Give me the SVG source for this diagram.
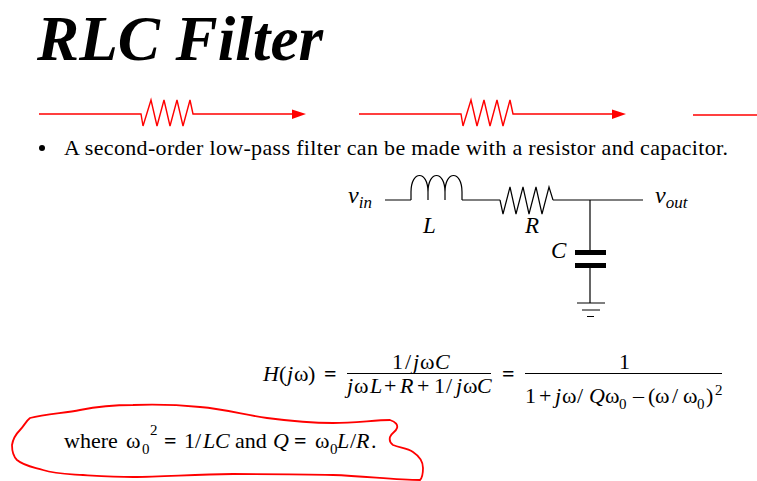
<svg xmlns="http://www.w3.org/2000/svg" width="757" height="481" viewBox="0 0 757 481">
<style>
text{font-family:"Liberation Serif","Times New Roman",serif;fill:#000}
.t{font-size:22px}.m{font-size:22px}.s{font-size:15px}.i{font-style:italic}.l{font-size:23px;font-style:italic}.v{font-size:24px;font-style:italic}.sub{font-size:17px}
.r{fill:none;stroke:#f00;stroke-width:1.4}
.k{fill:none;stroke:#000;stroke-width:1.2}
</style>
<defs>
<g id="redres"><path class="r" d="M0 14H102L104 26L112 0L118 26L125 0L131 26L138 0L144 26L151 0L154 14H254"/><path fill="#f00" d="M253 9.500L267 14L253 19Z"/></g>
</defs>
<rect width="757" height="481" fill="#fff"/>
<g id="title"><text x="37" y="60" font-size="64" font-weight="bold" font-style="italic" textLength="286" lengthAdjust="spacingAndGlyphs">RLC Filter</text></g>
<g id="connectors">
<use href="#redres" x="39" y="100"/>
<use href="#redres" x="359" y="100"/>
<path class="r" d="M693 115H757"/>
<path class="k" d="M385 200H411M462 200H500M553 200H643M590 200V252M590 265V303"/>
</g>
<g id="bullet"><circle cx="42" cy="148" r="3" fill="#000"/><text class="t" x="64" y="155" textLength="664">A second-order low-pass filter can be made with a resistor and capacitor.</text></g>
<g id="node-vin"><text class="v" x="348" y="203">v<tspan class="sub" dy="5">in</tspan></text></g>
<g id="node-L"><path class="k" d="M411 200V192C411 170 428 170 428 192V200M428 192C428 170 445 170 445 192V200M445 192C445 170 462 170 462 192V200"/><text class="l" x="423" y="233">L</text></g>
<g id="node-R"><path class="k" d="M500 200L503 214L510 187L516 214L523 187L529 214L536 187L542 214L549 187L553 200"/><text class="l" x="525" y="233">R</text></g>
<g id="node-C"><path fill="#000" d="M575 250H606V255H575ZM575 263H606V268H575Z"/><text class="l" x="551" y="258">C</text></g>
<g id="node-gnd"><path class="k" d="M577 303H605M582 310H600M587 316.500H594"/></g>
<g id="node-vout"><text class="v" x="655" y="203">v<tspan class="sub" dy="5">out</tspan></text></g>
<g id="equation">
<text class="m" y="381"><tspan class="i" x="263">H</tspan><tspan x="279">(</tspan><tspan class="i" x="287">j</tspan><tspan x="294 308">ω)</tspan></text>
<text class="m" x="324" y="381" font-weight="bold">=</text>
<text class="m" y="369"><tspan x="392 405">1/</tspan><tspan class="i" x="413">j</tspan><tspan x="420">ω</tspan><tspan class="i" x="435">C</tspan></text>
<path class="k" d="M347 373.500H491M525 373.500H722"/>
<text class="m" y="393"><tspan class="i" x="347">j</tspan><tspan x="354">ω</tspan><tspan class="i" x="370">L</tspan><tspan x="384">+</tspan><tspan class="i" x="400">R</tspan><tspan x="417">+</tspan><tspan x="434 446">1/</tspan><tspan class="i" x="456">j</tspan><tspan x="463">ω</tspan><tspan class="i" x="477">C</tspan></text>
<text class="m" x="502" y="381" font-weight="bold">=</text>
<text class="m" x="619" y="369">1</text>
<text class="m" y="403"><tspan x="525 539">1+</tspan><tspan class="i" x="555">j</tspan><tspan x="562 577">ω/</tspan><tspan class="i" x="589">Q</tspan><tspan x="605">ω</tspan></text>
<text class="s" x="619" y="409">0</text>
<text class="m" y="403" x="633 648 655 672 683">–(ω/ω</text>
<text class="s" x="697" y="409">0</text>
<text class="m" x="706" y="403">)</text>
<text class="s" x="715" y="395">2</text>
</g>
<g id="where">
<text class="m" x="64" y="448">where</text>
<text class="m" x="126" y="448">ω</text>
<text class="s" x="142" y="454">0</text>
<text class="s" x="150" y="435">2</text>
<text class="m" x="164" y="448" font-weight="bold">=</text>
<text class="m" y="448"><tspan x="184 195">1/</tspan><tspan class="i" x="203 215">LC</tspan><tspan x="235">and</tspan><tspan class="i" x="273">Q</tspan></text>
<text class="m" x="294" y="448" font-weight="bold">=</text>
<text class="m" x="315" y="448">ω</text>
<text class="s" x="330" y="454">0</text>
<text class="m" y="448"><tspan class="i" x="337">L</tspan><tspan x="350">/</tspan><tspan class="i" x="356">R</tspan><tspan x="371">.</tspan></text>
</g>
<g id="annotation"><path fill="none" stroke="#f00" stroke-width="1.8" stroke-linejoin="round" d="M30 418C45 414 65 413 80 410C100 406 115 405 133 405C160 404 180 405 200 407C225 409 245 415 267 418C290 421 310 423 333 423C355 423 375 420 390 420C396 422 398 425 397 428C396 432 391 433 390 437C389 441 390 443 393 445C400 448 407 448 413 452C419 456 423 462 423 468C423 473 423 477 420 480C395 480 365 476 333 475C300 474 265 474 233 474C195 474 165 477 133 477C115 477 100 476 83 475C68 474 55 474 43 470C33 467 24 466 17 460C13 456 12 450 12 445C13 439 16 434 20 430C24 426 26 421 30 418Z"/></g>
</svg>
